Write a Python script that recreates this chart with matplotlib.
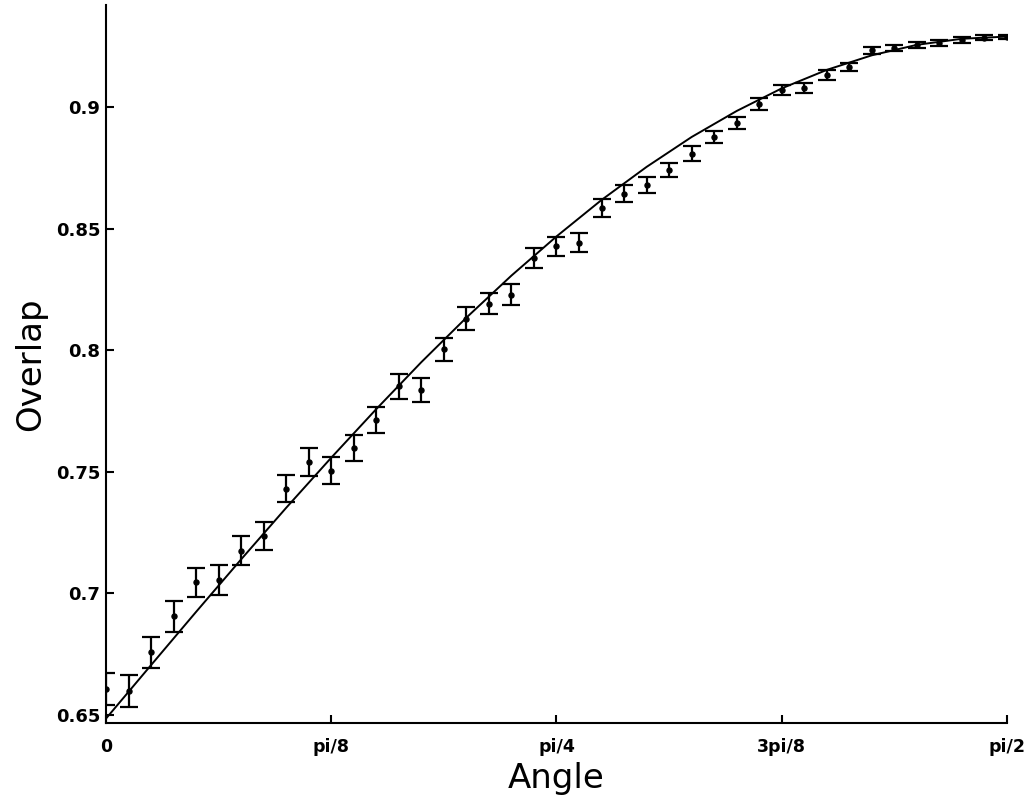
import numpy as np
import matplotlib
matplotlib.use('Agg')
import matplotlib.pyplot as plt

# Pontos medidos (41 angulos igualmente espacados de 0 a pi/2)
angulos = np.linspace(0, np.pi / 2, 41)
overlap = [0.6607, 0.6599, 0.6757, 0.6906, 0.7046, 0.7055, 0.7176, 0.7235,
           0.7431, 0.7540, 0.7505, 0.7598, 0.7713, 0.7851, 0.7836, 0.8004,
           0.8130, 0.8191, 0.8228, 0.8379, 0.8428, 0.8443, 0.8585, 0.8644,
           0.8678, 0.8743, 0.8809, 0.8877, 0.8935, 0.9014, 0.9070, 0.9077,
           0.9132, 0.9164, 0.9233, 0.9243, 0.9255, 0.9265, 0.9276, 0.9286,
           0.9290]
erro = [0.0066, 0.0066, 0.0065, 0.0063, 0.0060, 0.0062, 0.0058, 0.0057,
        0.0056, 0.0057, 0.0056, 0.0053, 0.0052, 0.0051, 0.0049, 0.0048,
        0.0047, 0.0043, 0.0044, 0.0040, 0.0039, 0.0038, 0.0036, 0.0036,
        0.0033, 0.0029, 0.0031, 0.0026, 0.0025, 0.0024, 0.0021, 0.0021,
        0.0020, 0.0017, 0.0016, 0.0014, 0.0013, 0.0012, 0.0011, 0.0010,
        0.0008]

# Curva teorica
curva_x = np.linspace(0, np.pi / 2, 21)
curva_y = [0.6485, 0.6705, 0.6924, 0.7140, 0.7352, 0.7558, 0.7758, 0.7951,
           0.8134, 0.8307, 0.8468, 0.8618, 0.8754, 0.8877, 0.8984, 0.9077,
           0.9153, 0.9213, 0.9256, 0.9281, 0.9290]

# Rotulos dos eixos
xticks = [0, np.pi / 8, np.pi / 4, 3 * np.pi / 8, np.pi / 2]
xlabels = ['0', 'pi/8', 'pi/4', '3pi/8', 'pi/2']
yticks = [0.65, 0.7, 0.75, 0.8, 0.85, 0.9]
ylabels = ['0.65', '0.7', '0.75', '0.8', '0.85', '0.9']

fig = plt.figure(figsize=(10.29, 8.01), dpi=100)
ax = fig.add_axes([0.103, 0.0974, 0.8756, 0.8964])

ax.plot(curva_x, curva_y, color='black', linewidth=1.4)
ax.errorbar(angulos, overlap, yerr=erro, fmt='o', color='black',
            markersize=3.6, elinewidth=1.6, capsize=6.5, capthick=1.6)

ax.set_xlim(0, np.pi / 2)
ax.set_ylim(0.6467, 0.942)

ax.set_xticks(xticks)
ax.set_xticklabels(xlabels, fontsize=12.5, fontweight='bold')
ax.set_yticks(yticks)
ax.set_yticklabels(ylabels, fontsize=13, fontweight='bold')
ax.tick_params(axis='both', direction='in', length=6, width=1.5)
ax.tick_params(axis='x', pad=11)
ax.tick_params(axis='y', pad=4)

for lado in ['top', 'right']:
    ax.spines[lado].set_visible(False)
for lado in ['left', 'bottom']:
    ax.spines[lado].set_linewidth(1.5)

ax.set_xlabel('Angle', fontsize=24.5)
ax.set_ylabel('Overlap', fontsize=24.5)
ax.xaxis.set_label_coords(0.5, -0.054)
ax.yaxis.set_label_coords(-0.0655, 0.5)

fig.savefig('out.png', dpi=100)
